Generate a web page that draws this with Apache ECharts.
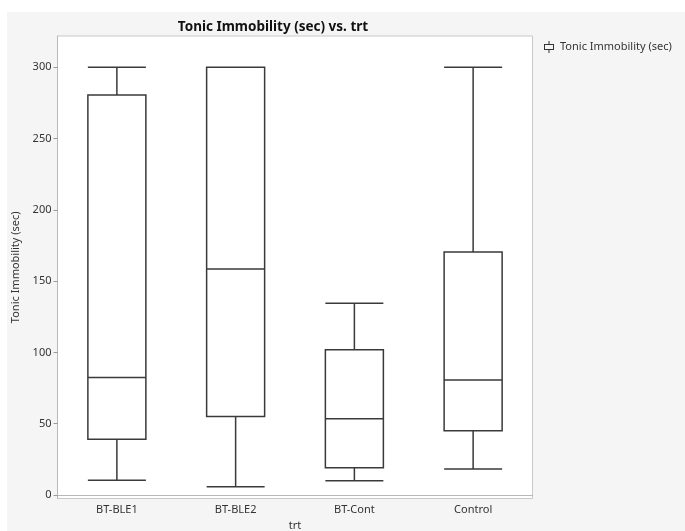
<!DOCTYPE html>
<html><head><meta charset="utf-8">
<script src="https://cdn.jsdelivr.net/npm/echarts@6/dist/echarts.min.js"></script>
<style>html,body{margin:0;padding:0;background:#fff}#c{width:685px;height:531px}</style>
</head><body><div id="c"></div>
<script>
const categories = ['BT-BLE1', 'BT-BLE2', 'BT-Cont', 'Control'];
const lowerWhisker = [10.3, 5.8, 10.0, 18.2];
const q1 = [39.0, 55.0, 19.1, 45.0];
const median = [82.3, 158.5, 53.5, 80.6];
const q3 = [280.5, 300, 101.8, 170.4];
const upperWhisker = [300, 300, 134.4, 300];
const yTicks = [0, 50, 100, 150, 200, 250, 300];
const seriesName = 'Tonic Immobility (sec)';
const titleText = 'Tonic Immobility (sec) vs. trt';
const xName = 'trt';

const boxData = categories.map((c, i) => [lowerWhisker[i], q1[i], median[i], q3[i], upperWhisker[i]]);
const FONT = '"Noto Sans", "Open Sans", sans-serif';
const iconPath = 'path://M5.5,0 L6.5,0 L6.5,3 L5.5,3 Z M5.5,9 L6.5,9 L6.5,12 L5.5,12 Z M1,3 L11,3 L11,4 L1,4 Z M1,8 L11,8 L11,9 L1,9 Z M1,3 L2,3 L2,9 L1,9 Z M10,3 L11,3 L11,9 L10,9 Z';

const chart = echarts.init(document.getElementById('c'), null, {renderer: 'canvas'});
chart.setOption({
  animation: false,
  backgroundColor: '#ffffff',
  graphic: [{
    type: 'rect', left: 7, top: 12, z: -10, silent: true,
    shape: {width: 678, height: 519},
    style: {fill: '#f5f5f5'}
  }],
  title: {
    text: titleText,
    left: 268, top: 15, textAlign: 'center',
    textStyle: {fontFamily: FONT, fontSize: 13.5, fontWeight: 'bold', color: '#111'}
  },
  legend: {
    left: 539, top: 36,
    itemWidth: 12, itemHeight: 12, itemGap: 5,
    icon: iconPath,
    itemStyle: {color: '#333', borderWidth: 0},
    textStyle: {fontFamily: FONT, fontSize: 11, color: '#333'},
    data: [seriesName]
  },
  grid: {
    left: 57.5, right: 152.5, top: 36, bottom: 32.5,
    containLabel: false, outerBoundsMode: 'none',
    show: true, backgroundColor: '#ffffff', borderColor: '#c8c8c8', borderWidth: 1
  },
  xAxis: {
    type: 'category', data: categories,
    name: xName, nameLocation: 'middle', nameGap: 22,
    nameTextStyle: {fontFamily: FONT, fontSize: 11, color: '#333'},
    axisLine: {lineStyle: {color: '#b8b8b8'}},
    axisTick: {show: false},
    axisLabel: {fontFamily: FONT, fontSize: 11, color: '#333', margin: 6},
    splitLine: {show: false}
  },
  yAxis: {
    type: 'value', min: -2.5, max: 321.9,
    name: seriesName, nameLocation: 'middle', nameGap: 29, nameRotate: 90,
    nameTextStyle: {fontFamily: FONT, fontSize: 11, color: '#333'},
    axisLine: {show: true, lineStyle: {color: '#b8b8b8'}},
    axisTick: {show: true, length: 4, customValues: yTicks, lineStyle: {color: '#999'}},
    axisLabel: {fontFamily: FONT, fontSize: 11, color: '#333', margin: 6, customValues: yTicks},
    splitLine: {show: false}
  },
  series: [{
    name: seriesName,
    type: 'boxplot',
    data: boxData,
    boxWidth: [58, 58],
    itemStyle: {color: '#ffffff', borderColor: '#3a3a3a', borderWidth: 1.5},
    emphasis: {disabled: true}
  }]
});
</script>
</body></html>
